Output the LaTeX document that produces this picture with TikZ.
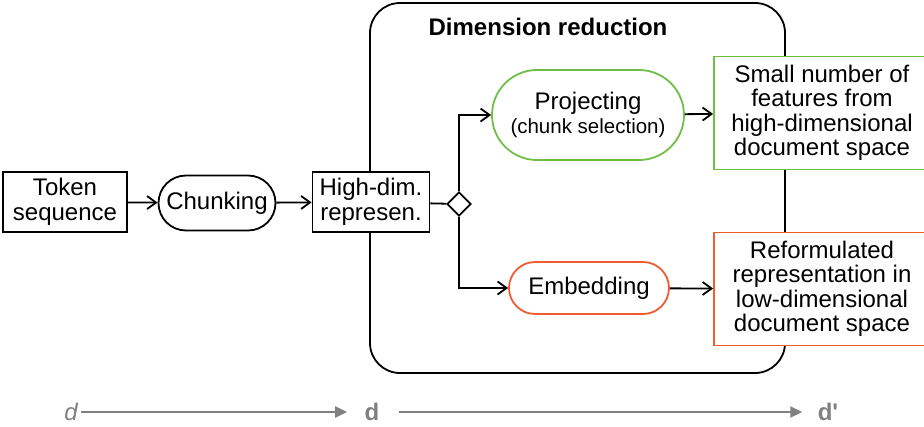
\documentclass[tikz,border=0pt]{standalone}
\usepackage{fontspec}
\setmainfont{Liberation Sans}
\usepackage{xcolor}
\usetikzlibrary{shapes.geometric, shapes.misc, arrows.meta, positioning, calc}

\definecolor{projgreen}{RGB}{112,190,72}
\definecolor{embred}{RGB}{238,92,48}
\definecolor{dimgray}{RGB}{128,128,128}

\begin{document}
\begin{tikzpicture}[
    x=1pt, y=-1pt,
    every node/.style={font=\fontsize{24}{24.5}\selectfont, align=center},
    box/.style={rectangle, draw, line width=1.8pt, fill=white, inner sep=2pt},
    proc/.style={rounded rectangle, draw, line width=1.8pt, fill=white, inner sep=2pt},
    outbox/.style={rectangle, draw, line width=1.8pt, fill=white, minimum width=216pt, minimum height=113pt},
    arr/.style={-{Straight Barb[length=9pt, width=13pt, line width=1.8pt]}, line width=1.8pt},
    dimarr/.style={-{Triangle[length=12pt, width=11pt]}, line width=2pt, draw=dimgray},
    dimlab/.style={text=dimgray}
]
\useasboundingbox (0,0) rectangle (924,426);

% Dimension reduction frame
\draw[line width=1.8pt, rounded corners=30pt] (370,3) rectangle (785,373);
\node[font=\fontsize{24}{24.5}\selectfont\bfseries] (dimred) at (548,27) {Dimension reduction};

% Pipeline
\node[box, minimum width=124pt, minimum height=60pt] (token) at (65,202) {Token\\sequence};
\node[proc, minimum width=121pt, minimum height=55pt] (chunk) at (217,203) {Chunking};
\node[box, minimum width=117pt, minimum height=60pt] (highdim) at (371,202) {High-dim.\\represen.};
\node[diamond, draw, line width=1.8pt, fill=white, inner sep=0pt, minimum size=24pt] (split) at (459,204) {};

% Branches
\node[proc, draw=projgreen, minimum width=196pt, minimum height=90pt] (proj) at (588,115)
    {Projecting\\[-1pt]{\fontsize{20.5}{22}\selectfont (chunk selection)}};
\node[proc, draw=embred, minimum width=164pt, minimum height=52pt] (embed) at (589,288) {Embedding};

% Results
\node[outbox, draw=projgreen] (small) at (822,113) {Small number of\\features from\\high-dimensional\\document space};
\node[outbox, draw=embred] (reform) at (822,289) {Reformulated\\representation in\\low-dimensional\\document space};

% Arrows
\draw[arr] (token) -- (chunk);
\draw[arr] (chunk) -- (highdim);
\draw[line width=1.8pt] (highdim) -- (split);
\draw[arr] (split.north) |- (proj.west);
\draw[arr] (split.south) |- (embed.west);
\draw[arr] (proj) -- (small);
\draw[arr] (embed) -- (reform);

% Dimensionality axis
\node[dimlab, font=\fontsize{24}{24.5}\selectfont\itshape] (dlow) at (71,412) {d};
\node[dimlab, font=\fontsize{24}{24.5}\selectfont\bfseries] (dhigh) at (372,412) {d};
\node[dimlab, font=\fontsize{24}{24.5}\selectfont\bfseries] (dred) at (828,412) {d\textquotesingle};
\draw[dimarr, shorten >=14pt] (dlow) -- (dhigh);
\draw[dimarr, shorten <=16pt, shorten >=12pt] (dhigh) -- (dred);
\end{tikzpicture}
\end{document}
